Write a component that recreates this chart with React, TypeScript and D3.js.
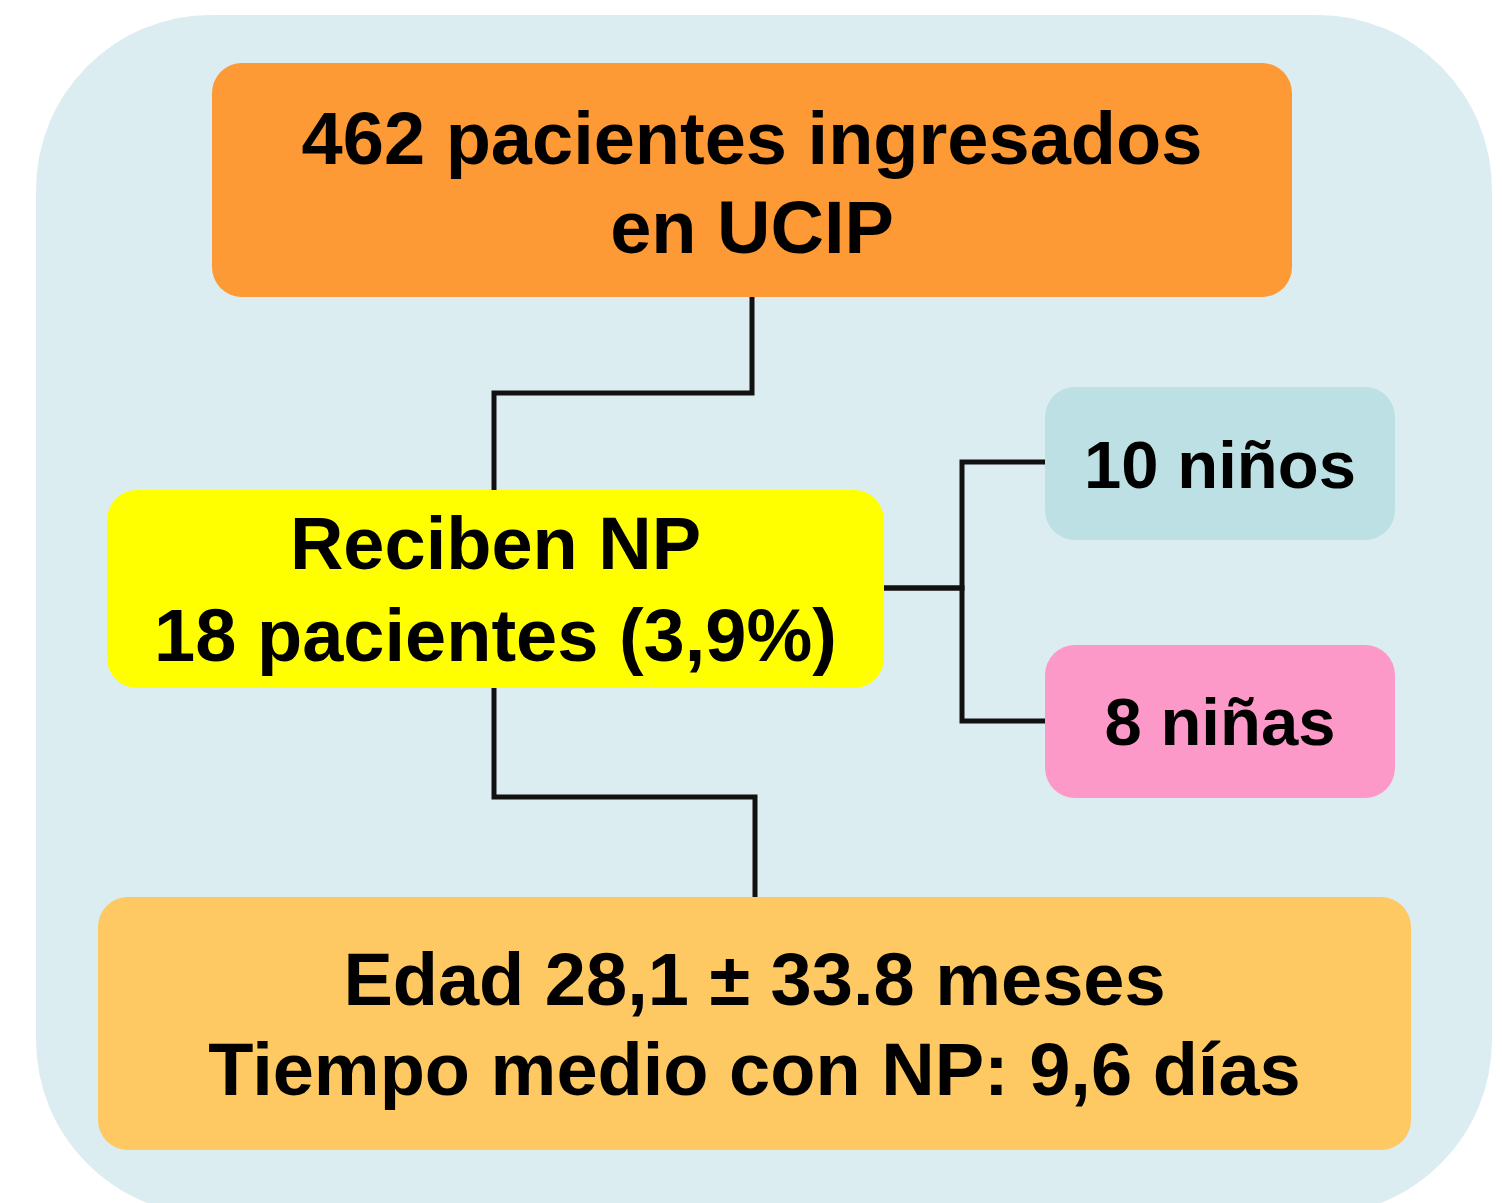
import React, { useEffect, useRef } from "react";
import * as d3 from "d3";

// ---- data ----
const nodeIds = ["ingresados", "np", "ninos", "ninas", "resumen"];
const nodeLines: string[][] = [
  ["462 pacientes ingresados", "en UCIP"],
  ["Reciben NP", "18 pacientes (3,9%)"],
  ["10 niños"],
  ["8 niñas"],
  ["Edad 28,1 ± 33.8 meses", "Tiempo medio con NP: 9,6 días"],
];
const nodeColors = ["#FE9A35", "#FFFF00", "#BCE0E3", "#FD99C9", "#FEC862"];
const links: [string, string][] = [
  ["ingresados", "np"],
  ["np", "ninos"],
  ["np", "ninas"],
  ["np", "resumen"],
];

// ---- layout ----
const W = 1502;
const H = 1203;
const boxes: Record<string, { x: number; y: number; w: number; h: number; fs: number; base: number[] }> = {
  ingresados: { x: 212, y: 63, w: 1080, h: 234, fs: 74, base: [164, 253] },
  np: { x: 107, y: 490, w: 777, h: 198, fs: 74, base: [569, 661] },
  ninos: { x: 1045, y: 387, w: 350, h: 153, fs: 67, base: [488] },
  ninas: { x: 1045, y: 645, w: 350, h: 153, fs: 67, base: [745] },
  resumen: { x: 98, y: 897, w: 1313, h: 253, fs: 74, base: [1005, 1095] },
};

export default function App() {
  const ref = useRef<SVGSVGElement>(null);
  useEffect(() => {
    const svg = d3.select(ref.current);
    svg.selectAll("*").remove();
    svg.append("rect").attr("width", W).attr("height", H).attr("fill", "#ffffff");
    svg
      .append("rect")
      .attr("x", 36)
      .attr("y", 15)
      .attr("width", 1456)
      .attr("height", 1200)
      .attr("rx", 175)
      .attr("fill", "#DCEDF1");

    // connectors
    const paths: Record<string, [number, number][]> = {
      "ingresados-np": [[752, 297], [752, 393], [494, 393], [494, 490]],
      "np-ninos": [[884, 588], [962, 588], [962, 462], [1045, 462]],
      "np-ninas": [[884, 588], [962, 588], [962, 721], [1045, 721]],
      "np-resumen": [[494, 688], [494, 797], [755, 797], [755, 897]],
    };
    const line = d3.line();
    svg
      .append("g")
      .selectAll("path")
      .data(links)
      .join("path")
      .attr("d", (l) => line(paths[l[0] + "-" + l[1]]))
      .attr("fill", "none")
      .attr("stroke", "#111")
      .attr("stroke-width", 5);

    const g = svg
      .append("g")
      .selectAll("g")
      .data(nodeIds)
      .join("g");
    g.append("rect")
      .attr("x", (d) => boxes[d].x)
      .attr("y", (d) => boxes[d].y)
      .attr("width", (d) => boxes[d].w)
      .attr("height", (d) => boxes[d].h)
      .attr("rx", 30)
      .attr("fill", (d, i) => nodeColors[i]);
    g.each(function (d, i) {
      const b = boxes[d];
      d3.select(this)
        .selectAll("text")
        .data(nodeLines[i])
        .join("text")
        .attr("x", b.x + b.w / 2)
        .attr("y", (_, j) => b.base[j])
        .attr("text-anchor", "middle")
        .attr("font-family", "'Liberation Sans', Arial, sans-serif")
        .attr("font-weight", "bold")
        .attr("font-size", b.fs)
        .attr("fill", "#000")
        .text((t) => t);
    });
  }, []);
  return (
    <svg
      ref={ref}
      width={W}
      height={H}
      style={{ position: "absolute", left: 0, top: 0, display: "block" }}
    />
  );
}
